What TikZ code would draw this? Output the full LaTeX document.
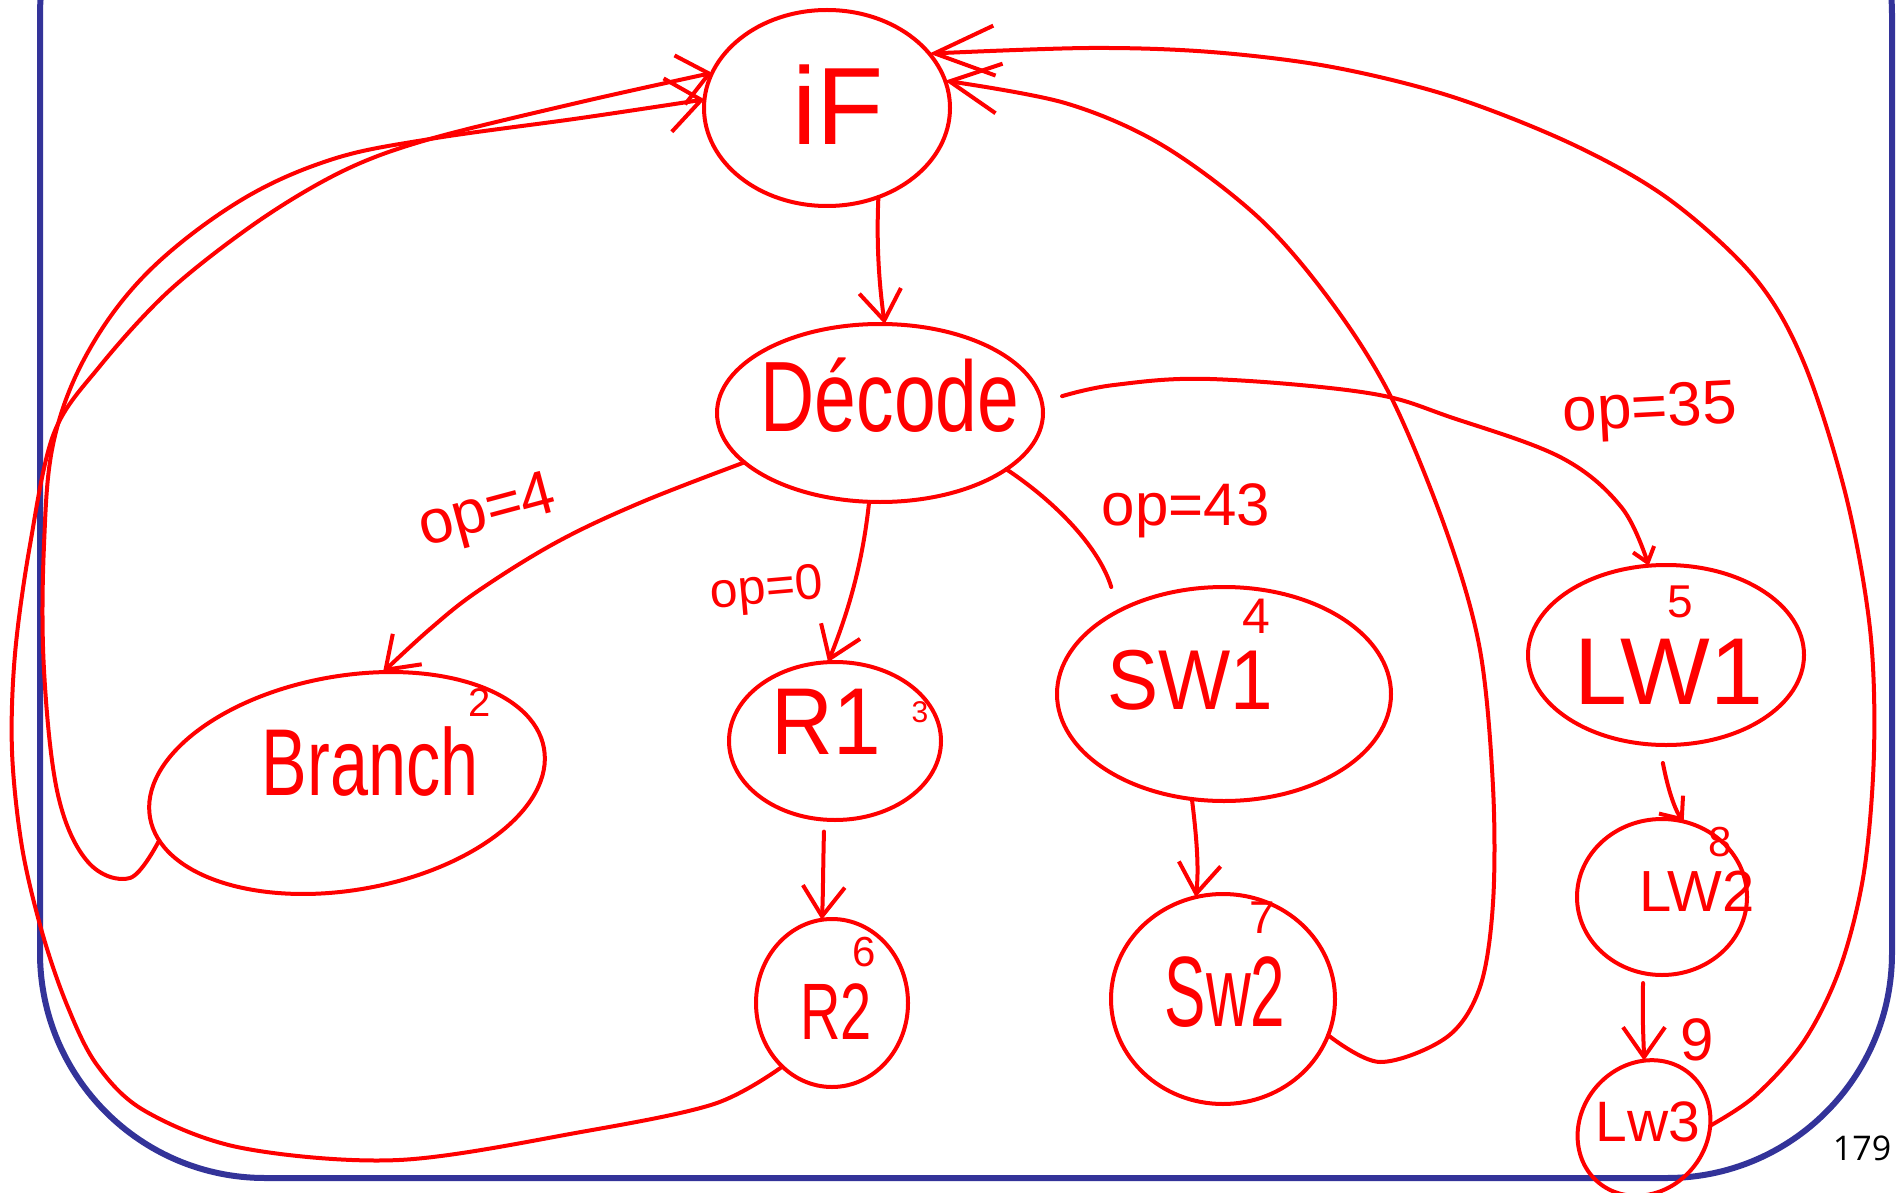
\documentclass[tikz,border=0pt]{standalone}
\usepackage{graphicx}
\usepackage{fontspec}
\setmainfont{Liberation Sans}
\newfontfamily\pagefont{Open Sans}
\usetikzlibrary{shapes.geometric,arrows.meta}
\definecolor{ink}{RGB}{255,0,0}
\definecolor{slideframe}{RGB}{51,51,153}

\begin{document}
\begin{tikzpicture}[x=1pt,y=-1pt,
  st/.style={draw=ink, ellipse, line width=4pt, inner sep=0pt, outer sep=0pt},
  txt/.style={text=ink, inner sep=0pt},
  num/.style={txt, font=\fontsize{40}{40}\selectfont},
  edge/.style={draw=ink, line width=4pt, line cap=round, line join=round},
  tip/.style={-{Straight Barb[length=30pt,width=42pt]}},
  bigtip/.style={-{Straight Barb[length=60pt,width=50pt]}},
]
\useasboundingbox (0,0) rectangle (1898,1193);
\begin{scope}
\clip (0,0) rectangle (1898,1193);

% slide frame
\draw[slideframe, line width=6pt, rounded corners=225pt] (40,-210) rectangle (1892,1178);

% states
\node[st, minimum width=246pt, minimum height=196pt] (IF) at (827,108) {};
\node[st, minimum width=326pt, minimum height=178pt] (dec) at (880,413) {};
\node[st, minimum width=400pt, minimum height=214pt, rotate=10] (br) at (347,783) {};
\node[st, minimum width=212pt, minimum height=158pt] (r1) at (835,741) {};
\node[st, minimum width=152pt, minimum height=168pt] (r2) at (832,1003) {};
\node[st, minimum width=334pt, minimum height=214pt] (sw1) at (1224,694) {};
\node[st, minimum width=224pt, minimum height=210pt] (sw2) at (1223,999) {};
\node[st, minimum width=276pt, minimum height=180pt] (lw1) at (1666,655) {};
\node[st, minimum width=170pt, minimum height=156pt] (lw2) at (1662,897) {};
\node[st, minimum width=142pt, minimum height=126pt, rotate=50] (lw3) at (1644,1128) {};

% state names
\node[txt, font=\fontsize{110}{110}\selectfont] (IFt) at (838,105) {iF};
\node[txt, font=\fontsize{100}{100}\selectfont] (dect) at (890,395) {\scalebox{0.75}[1]{Décode}};
\node[txt, font=\fontsize{95}{95}\selectfont] (brt) at (370,762) {\scalebox{0.72}[1]{Branch}};
\node[txt, font=\fontsize{95}{95}\selectfont] (r1t) at (826,722) {\scalebox{0.9}[1]{R1}};
\node[txt, font=\fontsize{80}{80}\selectfont] (r2t) at (836,1012) {\scalebox{0.7}[1]{R2}};
\node[txt, font=\fontsize{85}{85}\selectfont] (sw1t) at (1190,680) {\scalebox{0.9}[1]{SW1}};
\node[txt, font=\fontsize{100}{100}\selectfont] (sw2t) at (1225,992) {\scalebox{0.62}[1]{Sw2}};
\node[txt, font=\fontsize{95}{95}\selectfont] (lw1t) at (1669,672) {LW1};
\node[txt, font=\fontsize{58}{58}\selectfont] (lw2t) at (1697,891) {LW2};
\node[txt, font=\fontsize{57}{57}\selectfont] (lw3t) at (1648,1122) {Lw3};

% state numbers
\node[num] (n2) at (480,703) {2};
\node[num, font=\fontsize{30}{30}\selectfont] (n3) at (920,712) {3};
\node[num, font=\fontsize{50}{50}\selectfont] (n4) at (1256,616) {4};
\node[num, font=\fontsize{46}{46}\selectfont] (n5) at (1680,602) {5};
\node[num, font=\fontsize{42}{42}\selectfont] (n6) at (864,952) {6};
\node[num, font=\fontsize{46}{46}\selectfont] (n7) at (1262,918) {7};
\node[num, font=\fontsize{42}{42}\selectfont] (n8) at (1720,842) {8};
\node[num, font=\fontsize{60}{60}\selectfont] (n9) at (1697,1040) {9};

% guard labels
\node[txt, font=\fontsize{62}{62}\selectfont, rotate=15] (g4) at (488,514) {op=4};
\node[txt, font=\fontsize{50}{50}\selectfont, rotate=5] (g0) at (767,591) {op=0};
\node[txt, font=\fontsize{60}{60}\selectfont] (g43) at (1186,511) {op=43};
\node[txt, font=\fontsize{62}{62}\selectfont, rotate=3] (g35) at (1650,412) {op=35};

% forward transitions
\draw[edge,tip] (IF.-60) .. controls (876,250) and (880,290) .. (dec.87);
\draw[edge,tip] plot[smooth, tension=0.6] coordinates
  {(dec.200) (642,502) (557,542) (478,591) (430,629) (br.62)};
\draw[edge,tip] (dec.-97) .. controls (862,570) and (845,620) .. (r1.95);
\draw[edge] (dec.-24) .. controls (1060,505) and (1100,550) .. ([yshift=28pt]sw1.145);
\draw[edge,-{Straight Barb[length=14pt,width=22pt]}] plot[smooth, tension=0.6] coordinates
  {([xshift=22pt]dec.6) (1114,385) (1210,379) (1368,393) (1453,418) (1562,458) (1622,508) (lw1.101)};
\draw[edge,tip] ([yshift=-12pt]r1.-98) .. controls (823,870) and (823,900) .. (r2.97);
\draw[edge,tip] (sw1.-107) .. controls (1197,840) and (1199,870) .. (sw2.105);
\draw[edge,-{Straight Barb[length=18pt,width=30pt]}] ([yshift=-18pt]lw1.-92) .. controls (1668,790) and (1675,810) .. (lw2.74);
\draw[edge,tip] ([yshift=-10pt]lw2.-104) .. controls (1642,1020) and (1644,1050) .. (lw3.40);

% transitions back to instruction fetch
\draw[edge,-{Straight Barb[length=34pt,width=54pt]}] plot[smooth, tension=0.6] coordinates
  {(br.187) (130,878) (88,862) (58,795) (44,670) (44,545) (54,440) (88,352)
   (148,272) (238,202) (330,160) (430,139) (581,118) (IF.176)};
\draw[edge,-{Straight Barb[length=30pt,width=50pt]}] plot[smooth, tension=0.55] coordinates
  {(r2.232) (714,1104) (581,1132) (399,1160) (242,1148) (145,1111) (97,1065)
   (67,1005) (42,932) (22,847) (12,751) (15,654) (30,545) (54,433) (100,366)
   (170,290) (260,220) (345,170) (430,139) (581,102) (IF.163)};
\draw[edge,-{Straight Barb[length=50pt,width=50pt]}] plot[smooth, tension=0.55] coordinates
  {(sw2.-19) (1380,1062) (1447,1037) (1480,987) (1493,903) (1493,787) (1480,650)
   (1447,533) (1392,399) (1332,303) (1259,218) (1162,145) (1065,103) (IF.13.5)};
\draw[edge,bigtip] plot[smooth, tension=0.55] coordinates
  {(lw3.-48) (1755,1096) (1804,1041) (1840,968) (1864,872) (1874,751) (1870,629)
   (1846,496) (1804,363) (1755,278) (1670,200) (1574,145) (1453,97) (1332,67)
   (1211,52) (1089,48) (IF.28)};

% slide number
\node[font=\pagefont\fontsize{34}{34}\selectfont, inner sep=0pt] (page) at (1862,1148) {179};
\end{scope}
\end{tikzpicture}
\end{document}
